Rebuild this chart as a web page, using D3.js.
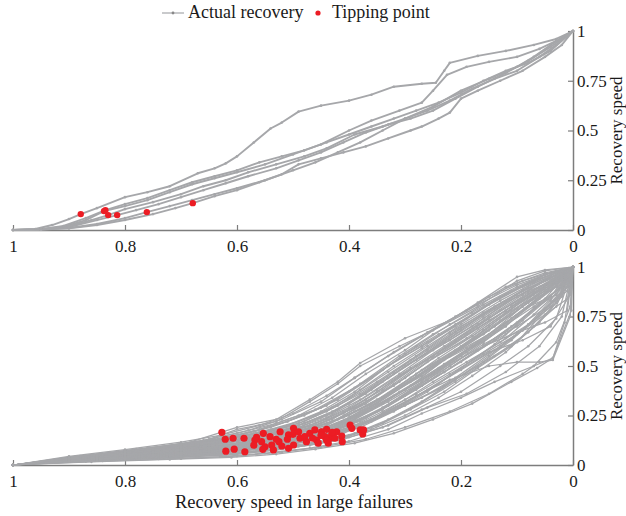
<!DOCTYPE html>
<html>
<head>
<meta charset="utf-8">
<script src="https://cdn.jsdelivr.net/npm/d3@7"></script>
<style>
  body { margin: 0; background: #fff; }
  svg { display: block; }
  text { font-family: "Liberation Serif", "Times New Roman", serif; fill: #1a1a1a; }
</style>
</head>
<body>
<svg id="chart" width="626" height="516"></svg>
<script>
// ---- data ----
var xTicks = [1, 0.8, 0.6, 0.4, 0.2, 0];
var yTicks = [0, 0.25, 0.5, 0.75, 1];
var legendLabels = ["Actual recovery", "Tipping point"];
var yLabel = "Recovery speed";
var xLabel = "Recovery speed in large failures";

// top panel: a few recoveries, [fraction remaining, recovery]
var topCurves = [
  [[1,0],[0.96,0.005],[0.93,0.025],[0.9,0.055],[0.879,0.08],[0.85,0.11],[0.8,0.165],[0.76,0.19],[0.72,0.22],[0.67,0.285],[0.64,0.31],[0.62,0.335],[0.6,0.37],[0.57,0.44],[0.54,0.51],[0.52,0.54],[0.49,0.595],[0.45,0.625],[0.4,0.65],[0.36,0.68],[0.32,0.72],[0.27,0.735],[0.245,0.74],[0.23,0.8],[0.22,0.84],[0.17,0.875],[0.12,0.9],[0.07,0.93],[0.03,0.96],[0,1]],
  [[1,0],[0.95,0.003],[0.91,0.015],[0.87,0.05],[0.8375,0.095],[0.8,0.12],[0.76,0.15],[0.72,0.19],[0.68,0.23],[0.64,0.26],[0.6,0.29],[0.55,0.33],[0.5,0.38],[0.45,0.43],[0.4,0.5],[0.36,0.55],[0.31,0.6],[0.27,0.64],[0.25,0.7],[0.225,0.78],[0.19,0.82],[0.15,0.845],[0.1,0.87],[0.06,0.91],[0.03,0.95],[0,1]],
  [[1,0],[0.95,0.004],[0.9,0.02],[0.86,0.05],[0.83,0.075],[0.8,0.105],[0.75,0.14],[0.7,0.18],[0.66,0.22],[0.62,0.25],[0.58,0.29],[0.53,0.33],[0.48,0.37],[0.44,0.41],[0.39,0.48],[0.34,0.52],[0.3,0.56],[0.25,0.62],[0.2,0.7],[0.15,0.76],[0.1,0.82],[0.07,0.87],[0.04,0.93],[0,1]],
  [[1,0],[0.95,0.003],[0.9,0.015],[0.85,0.05],[0.814,0.075],[0.78,0.1],[0.74,0.13],[0.7,0.165],[0.66,0.2],[0.62,0.235],[0.58,0.27],[0.53,0.31],[0.49,0.35],[0.45,0.39],[0.41,0.44],[0.37,0.49],[0.33,0.53],[0.29,0.56],[0.25,0.6],[0.21,0.66],[0.17,0.72],[0.12,0.79],[0.08,0.85],[0.04,0.92],[0,1]],
  [[1,0],[0.95,0.002],[0.9,0.01],[0.85,0.03],[0.8,0.06],[0.761,0.09],[0.72,0.12],[0.68,0.15],[0.64,0.18],[0.6,0.21],[0.55,0.25],[0.5,0.3],[0.46,0.34],[0.42,0.39],[0.38,0.44],[0.34,0.5],[0.3,0.56],[0.26,0.6],[0.22,0.65],[0.18,0.71],[0.14,0.76],[0.1,0.8],[0.06,0.87],[0.03,0.93],[0,1]],
  [[1,0],[0.95,0.002],[0.9,0.008],[0.85,0.025],[0.8,0.05],[0.75,0.08],[0.71,0.11],[0.679,0.135],[0.64,0.17],[0.6,0.2],[0.56,0.24],[0.52,0.28],[0.49,0.33],[0.45,0.36],[0.41,0.39],[0.37,0.42],[0.33,0.46],[0.29,0.5],[0.27,0.52],[0.24,0.56],[0.22,0.59],[0.2,0.66],[0.17,0.7],[0.13,0.75],[0.09,0.8],[0.05,0.87],[0.02,0.93],[0,1]],
  [[1,0],[0.95,0.004],[0.91,0.02],[0.87,0.06],[0.835,0.1],[0.8,0.13],[0.76,0.16],[0.72,0.2],[0.68,0.24],[0.64,0.27],[0.6,0.3],[0.56,0.34],[0.52,0.37],[0.48,0.4],[0.44,0.44],[0.4,0.48],[0.36,0.52],[0.32,0.56],[0.28,0.6],[0.24,0.64],[0.2,0.69],[0.16,0.75],[0.12,0.8],[0.08,0.84],[0.04,0.9],[0,1]]
];
var topTipping = [[0.879,0.08],[0.8375,0.095],[0.835,0.1],[0.83,0.075],[0.814,0.075],[0.761,0.09],[0.679,0.135]];

// bottom panel: many recoveries
var bottomCurves = [
  [[1,0],[0.86,0.016],[0.72,0.028],[0.61,0.038],[0.53,0.055],[0.46,0.08],[0.39,0.11],[0.32,0.16],[0.25,0.23],[0.18,0.31],[0.11,0.42],[0.064,0.49],[0.036,0.54],[0.015,0.72],[0,1]],
  [[1,0],[0.84,0.02],[0.7,0.032],[0.6,0.045],[0.52,0.065],[0.45,0.09],[0.37,0.13],[0.3,0.19],[0.22,0.27],[0.15,0.36],[0.09,0.46],[0.07,0.5],[0.03,0.62],[0.005,0.8],[0,1]],
  [[1,0],[0.87,0.02],[0.73,0.035],[0.62,0.05],[0.55,0.07],[0.47,0.1],[0.41,0.13],[0.33,0.2],[0.26,0.29],[0.19,0.36],[0.12,0.47],[0.06,0.6],[0.02,0.75],[0,1]],
  [[1,0],[0.85,0.022],[0.71,0.038],[0.6,0.055],[0.53,0.075],[0.46,0.105],[0.4,0.14],[0.34,0.19],[0.27,0.28],[0.2,0.37],[0.13,0.5],[0.08,0.6],[0.03,0.74],[0,1]],
  [[1,0],[0.88,0.02],[0.76,0.035],[0.64,0.055],[0.56,0.07],[0.49,0.095],[0.42,0.125],[0.35,0.2],[0.28,0.3],[0.21,0.42],[0.14,0.55],[0.08,0.67],[0.03,0.82],[0,1]],
  [[1,0],[0.86,0.024],[0.74,0.04],[0.63,0.06],[0.57,0.08],[0.5,0.11],[0.43,0.15],[0.36,0.22],[0.3,0.3],[0.23,0.4],[0.16,0.52],[0.1,0.62],[0.05,0.78],[0.01,0.9],[0,1]],
  [[1,0],[0.84,0.025],[0.72,0.045],[0.62,0.065],[0.55,0.085],[0.48,0.12],[0.41,0.16],[0.34,0.25],[0.27,0.34],[0.21,0.44],[0.14,0.58],[0.09,0.68],[0.04,0.83],[0,1]],
  [[1,0],[0.87,0.026],[0.75,0.045],[0.65,0.06],[0.58,0.075],[0.51,0.1],[0.44,0.14],[0.38,0.2],[0.31,0.29],[0.24,0.38],[0.17,0.5],[0.11,0.63],[0.06,0.76],[0.02,0.87],[0,1]],
  [[1,0],[0.85,0.028],[0.73,0.048],[0.64,0.07],[0.56,0.09],[0.49,0.125],[0.43,0.17],[0.37,0.24],[0.3,0.35],[0.23,0.47],[0.16,0.6],[0.1,0.72],[0.05,0.84],[0,1]],
  [[1,0],[0.88,0.025],[0.77,0.045],[0.67,0.065],[0.6,0.08],[0.53,0.1],[0.46,0.135],[0.4,0.18],[0.33,0.27],[0.26,0.38],[0.2,0.48],[0.13,0.6],[0.07,0.73],[0.02,0.88],[0,1]],
  [[1,0],[0.86,0.03],[0.74,0.05],[0.63,0.075],[0.57,0.095],[0.5,0.13],[0.44,0.175],[0.38,0.26],[0.32,0.35],[0.25,0.46],[0.19,0.57],[0.12,0.7],[0.06,0.85],[0.01,0.93],[0,1]],
  [[1,0],[0.84,0.03],[0.71,0.055],[0.61,0.08],[0.54,0.105],[0.47,0.14],[0.4,0.2],[0.33,0.3],[0.27,0.4],[0.2,0.52],[0.14,0.63],[0.08,0.76],[0.03,0.88],[0,1]],
  [[1,0],[0.87,0.03],[0.76,0.05],[0.66,0.072],[0.59,0.09],[0.52,0.12],[0.45,0.16],[0.39,0.23],[0.33,0.33],[0.27,0.43],[0.2,0.56],[0.14,0.67],[0.07,0.8],[0.02,0.9],[0,1]],
  [[1,0],[0.85,0.032],[0.72,0.058],[0.62,0.085],[0.55,0.115],[0.48,0.155],[0.42,0.21],[0.36,0.3],[0.29,0.42],[0.22,0.55],[0.15,0.66],[0.09,0.8],[0.04,0.9],[0,1]],
  [[1,0],[0.86,0.033],[0.75,0.055],[0.65,0.08],[0.58,0.1],[0.51,0.135],[0.44,0.18],[0.37,0.27],[0.31,0.37],[0.24,0.49],[0.18,0.6],[0.11,0.74],[0.05,0.87],[0,1]],
  [[1,0],[0.88,0.03],[0.78,0.05],[0.68,0.075],[0.61,0.095],[0.54,0.12],[0.47,0.16],[0.41,0.22],[0.35,0.31],[0.28,0.44],[0.22,0.55],[0.15,0.68],[0.09,0.8],[0.03,0.92],[0,1]],
  [[1,0],[0.84,0.035],[0.72,0.06],[0.62,0.09],[0.55,0.12],[0.49,0.15],[0.42,0.2],[0.36,0.28],[0.29,0.4],[0.23,0.53],[0.16,0.66],[0.1,0.79],[0.04,0.91],[0,1]],
  [[1,0],[0.86,0.035],[0.74,0.06],[0.64,0.088],[0.57,0.115],[0.5,0.155],[0.44,0.2],[0.38,0.3],[0.31,0.42],[0.25,0.54],[0.18,0.65],[0.12,0.77],[0.06,0.88],[0.01,0.95],[0,1]],
  [[1,0],[0.87,0.036],[0.76,0.062],[0.66,0.09],[0.6,0.11],[0.53,0.145],[0.46,0.19],[0.4,0.25],[0.33,0.36],[0.27,0.48],[0.2,0.6],[0.13,0.73],[0.07,0.86],[0.02,0.94],[0,1]],
  [[1,0],[0.85,0.038],[0.73,0.065],[0.63,0.095],[0.56,0.125],[0.49,0.17],[0.43,0.22],[0.37,0.31],[0.3,0.44],[0.24,0.56],[0.17,0.69],[0.11,0.8],[0.05,0.9],[0,1]],
  [[1,0],[0.86,0.04],[0.75,0.065],[0.65,0.1],[0.58,0.13],[0.52,0.16],[0.45,0.21],[0.39,0.29],[0.32,0.4],[0.26,0.52],[0.19,0.64],[0.12,0.78],[0.06,0.9],[0,1]],
  [[1,0],[0.84,0.04],[0.71,0.07],[0.61,0.105],[0.54,0.14],[0.47,0.19],[0.41,0.26],[0.35,0.37],[0.28,0.5],[0.21,0.62],[0.15,0.73],[0.08,0.85],[0.03,0.94],[0,1]],
  [[1,0],[0.87,0.04],[0.77,0.068],[0.67,0.1],[0.6,0.125],[0.54,0.155],[0.47,0.2],[0.41,0.27],[0.34,0.38],[0.28,0.5],[0.21,0.63],[0.15,0.74],[0.08,0.87],[0.02,0.95],[0,1]],
  [[1,0],[0.85,0.042],[0.74,0.072],[0.64,0.105],[0.57,0.14],[0.5,0.18],[0.44,0.24],[0.38,0.33],[0.31,0.46],[0.25,0.58],[0.18,0.7],[0.12,0.82],[0.05,0.93],[0,1]],
  [[1,0],[0.86,0.044],[0.73,0.075],[0.63,0.11],[0.56,0.145],[0.49,0.2],[0.43,0.27],[0.36,0.38],[0.3,0.5],[0.23,0.62],[0.16,0.75],[0.1,0.86],[0.04,0.95],[0,1]],
  [[1,0],[0.88,0.04],[0.78,0.068],[0.69,0.1],[0.62,0.13],[0.55,0.165],[0.48,0.21],[0.42,0.28],[0.36,0.39],[0.29,0.53],[0.22,0.66],[0.16,0.77],[0.09,0.88],[0.03,0.96],[0,1]],
  [[1,0],[0.84,0.046],[0.72,0.08],[0.62,0.12],[0.55,0.16],[0.48,0.22],[0.42,0.3],[0.35,0.42],[0.28,0.55],[0.22,0.67],[0.15,0.78],[0.09,0.88],[0.03,0.96],[0,1]],
  [[1,0],[0.86,0.046],[0.75,0.08],[0.66,0.115],[0.59,0.15],[0.52,0.19],[0.46,0.25],[0.4,0.34],[0.33,0.47],[0.26,0.6],[0.2,0.71],[0.13,0.83],[0.07,0.92],[0.01,0.98],[0,1]],
  [[1,0],[0.87,0.048],[0.76,0.085],[0.66,0.125],[0.6,0.16],[0.53,0.21],[0.46,0.28],[0.39,0.39],[0.33,0.5],[0.26,0.62],[0.19,0.74],[0.13,0.85],[0.06,0.94],[0,1]],
  [[1,0],[0.85,0.05],[0.73,0.088],[0.64,0.13],[0.57,0.17],[0.51,0.22],[0.44,0.3],[0.38,0.41],[0.31,0.55],[0.25,0.66],[0.18,0.77],[0.11,0.88],[0.05,0.96],[0,1]],
  [[1,0],[0.86,0.05],[0.74,0.09],[0.65,0.13],[0.58,0.175],[0.52,0.23],[0.45,0.32],[0.39,0.44],[0.32,0.57],[0.26,0.67],[0.19,0.78],[0.12,0.9],[0.05,0.97],[0,1]],
  [[1,0],[0.84,0.05],[0.71,0.09],[0.62,0.135],[0.56,0.18],[0.49,0.25],[0.43,0.34],[0.37,0.46],[0.3,0.58],[0.24,0.7],[0.17,0.81],[0.1,0.91],[0.04,0.97],[0,1]],
  [[1,0],[0.85,0.05],[0.73,0.09],[0.67,0.11],[0.6,0.18],[0.53,0.22],[0.47,0.32],[0.42,0.41],[0.38,0.5],[0.31,0.6],[0.25,0.68],[0.17,0.8],[0.1,0.93],[0.05,0.98],[0,1]],
  [[1,0],[0.88,0.045],[0.78,0.08],[0.69,0.11],[0.6,0.19],[0.53,0.23],[0.47,0.33],[0.42,0.42],[0.38,0.515],[0.3,0.64],[0.22,0.73],[0.17,0.82],[0.1,0.95],[0.05,0.985],[0,1]],
  [[1,0],[0.87,0.018],[0.74,0.03],[0.63,0.042],[0.55,0.06],[0.47,0.085],[0.4,0.12],[0.33,0.18],[0.27,0.26],[0.2,0.34],[0.14,0.42],[0.07,0.5],[0.036,0.54],[0.003,0.78],[0,1]],
  [[1,0],[0.85,0.028],[0.72,0.05],[0.62,0.07],[0.54,0.09],[0.46,0.13],[0.4,0.18],[0.34,0.26],[0.28,0.35],[0.22,0.43],[0.15,0.5],[0.1,0.52],[0.06,0.52],[0.036,0.53],[0.005,0.75],[0,1]],
  [[1,0],[0.86,0.03],[0.75,0.05],[0.65,0.07],[0.58,0.09],[0.5,0.12],[0.43,0.16],[0.36,0.23],[0.29,0.33],[0.22,0.45],[0.15,0.57],[0.09,0.63],[0.04,0.7],[0.005,0.86],[0,1]],
  [[1,0],[0.87,0.032],[0.77,0.055],[0.67,0.08],[0.6,0.1],[0.53,0.13],[0.46,0.17],[0.4,0.24],[0.34,0.34],[0.28,0.45],[0.21,0.58],[0.14,0.7],[0.08,0.82],[0.03,0.9],[0,1]],
  [[1,0],[0.85,0.034],[0.73,0.06],[0.63,0.085],[0.56,0.11],[0.49,0.14],[0.42,0.19],[0.35,0.27],[0.29,0.38],[0.22,0.5],[0.16,0.62],[0.1,0.75],[0.04,0.88],[0,1]],
  [[1,0],[0.86,0.038],[0.74,0.064],[0.64,0.092],[0.57,0.12],[0.5,0.16],[0.44,0.21],[0.38,0.28],[0.31,0.39],[0.24,0.52],[0.18,0.63],[0.11,0.76],[0.05,0.89],[0,1]],
  [[1,0],[0.9,0.02],[0.81,0.035],[0.7,0.05],[0.63,0.065],[0.56,0.09],[0.5,0.12],[0.45,0.15],[0.39,0.22],[0.34,0.29],[0.28,0.39],[0.23,0.47],[0.17,0.58],[0.12,0.66],[0.07,0.79],[0.03,0.86],[0,1]],
  [[1,0],[0.89,0.024],[0.79,0.04],[0.69,0.058],[0.61,0.08],[0.55,0.1],[0.48,0.13],[0.42,0.18],[0.37,0.24],[0.31,0.34],[0.26,0.43],[0.2,0.55],[0.14,0.67],[0.08,0.8],[0.03,0.91],[0,1]],
  [[1,0],[0.9,0.026],[0.8,0.045],[0.71,0.065],[0.63,0.09],[0.57,0.11],[0.5,0.145],[0.44,0.19],[0.38,0.26],[0.32,0.37],[0.27,0.45],[0.21,0.57],[0.15,0.7],[0.09,0.83],[0.04,0.92],[0,1]],
  [[1,0],[0.89,0.03],[0.8,0.05],[0.7,0.075],[0.62,0.1],[0.55,0.13],[0.49,0.17],[0.43,0.23],[0.37,0.33],[0.31,0.45],[0.25,0.55],[0.19,0.66],[0.13,0.78],[0.07,0.88],[0.02,0.96],[0,1]],
  [[1,0],[0.9,0.03],[0.81,0.052],[0.72,0.078],[0.64,0.105],[0.58,0.135],[0.51,0.18],[0.45,0.24],[0.4,0.31],[0.34,0.42],[0.28,0.53],[0.22,0.63],[0.16,0.74],[0.1,0.85],[0.05,0.93],[0,1]],
  [[1,0],[0.89,0.034],[0.79,0.058],[0.69,0.085],[0.62,0.11],[0.55,0.145],[0.49,0.19],[0.43,0.26],[0.37,0.36],[0.32,0.46],[0.26,0.57],[0.2,0.68],[0.14,0.8],[0.08,0.9],[0.03,0.97],[0,1]],
  [[1,0],[0.9,0.036],[0.8,0.062],[0.71,0.09],[0.64,0.12],[0.57,0.155],[0.51,0.2],[0.45,0.27],[0.39,0.37],[0.33,0.5],[0.27,0.6],[0.21,0.7],[0.15,0.81],[0.09,0.9],[0.04,0.96],[0,1]],
  [[1,0],[0.89,0.038],[0.79,0.066],[0.7,0.095],[0.62,0.13],[0.56,0.165],[0.49,0.22],[0.43,0.29],[0.38,0.38],[0.32,0.5],[0.27,0.59],[0.21,0.71],[0.14,0.83],[0.08,0.92],[0.02,0.98],[0,1]],
  [[1,0],[0.9,0.018],[0.8,0.03],[0.7,0.042],[0.62,0.055],[0.55,0.075],[0.48,0.1],[0.42,0.13],[0.36,0.18],[0.3,0.25],[0.24,0.34],[0.18,0.45],[0.12,0.57],[0.07,0.7],[0.03,0.8],[0,1]],
  [[1,0],[0.89,0.02],[0.78,0.034],[0.68,0.048],[0.6,0.062],[0.52,0.085],[0.46,0.11],[0.4,0.15],[0.34,0.21],[0.29,0.28],[0.23,0.37],[0.17,0.49],[0.11,0.6],[0.06,0.72],[0.02,0.85],[0,1]],
  [[1,0],[0.9,0.022],[0.79,0.038],[0.69,0.055],[0.61,0.072],[0.54,0.095],[0.47,0.125],[0.41,0.17],[0.35,0.24],[0.3,0.31],[0.24,0.41],[0.18,0.53],[0.12,0.64],[0.07,0.76],[0.02,0.89],[0,1]],
  [[1,0],[0.88,0.024],[0.78,0.04],[0.68,0.06],[0.6,0.078],[0.53,0.1],[0.47,0.13],[0.41,0.175],[0.36,0.23],[0.3,0.33],[0.25,0.42],[0.19,0.52],[0.13,0.62],[0.08,0.71],[0.03,0.82],[0,1]],
  [[1,0],[0.9,0.025],[0.8,0.043],[0.7,0.062],[0.63,0.08],[0.56,0.1],[0.5,0.13],[0.44,0.17],[0.38,0.22],[0.33,0.3],[0.27,0.4],[0.22,0.5],[0.16,0.61],[0.1,0.7],[0.05,0.79],[0.01,0.88],[0,1]],
  [[1,0],[0.89,0.027],[0.79,0.046],[0.69,0.068],[0.61,0.088],[0.54,0.115],[0.48,0.15],[0.42,0.2],[0.36,0.28],[0.3,0.38],[0.24,0.48],[0.18,0.6],[0.12,0.72],[0.06,0.84],[0.02,0.93],[0,1]],
  [[1,0],[0.9,0.028],[0.8,0.048],[0.71,0.07],[0.63,0.092],[0.57,0.115],[0.5,0.15],[0.44,0.2],[0.39,0.27],[0.33,0.36],[0.28,0.46],[0.22,0.56],[0.16,0.68],[0.11,0.78],[0.05,0.88],[0,1]],
  [[1,0],[0.88,0.03],[0.77,0.05],[0.67,0.072],[0.59,0.095],[0.52,0.125],[0.46,0.165],[0.4,0.22],[0.34,0.31],[0.29,0.4],[0.23,0.51],[0.17,0.62],[0.11,0.74],[0.06,0.85],[0.02,0.94],[0,1]],
  [[1,0],[0.9,0.032],[0.81,0.055],[0.72,0.08],[0.65,0.1],[0.58,0.125],[0.52,0.16],[0.46,0.21],[0.4,0.29],[0.35,0.38],[0.29,0.49],[0.23,0.6],[0.17,0.71],[0.11,0.81],[0.06,0.89],[0.01,0.96],[0,1]],
  [[1,0],[0.89,0.034],[0.78,0.058],[0.68,0.084],[0.6,0.11],[0.53,0.14],[0.47,0.18],[0.41,0.24],[0.35,0.33],[0.29,0.44],[0.24,0.54],[0.18,0.65],[0.12,0.77],[0.07,0.87],[0.02,0.95],[0,1]],
  [[1,0],[0.9,0.02],[0.81,0.035],[0.72,0.05],[0.64,0.068],[0.57,0.09],[0.51,0.115],[0.45,0.15],[0.39,0.2],[0.34,0.27],[0.28,0.36],[0.22,0.46],[0.16,0.56],[0.1,0.66],[0.05,0.76],[0.01,0.84],[0,1]],
  [[1,0],[0.88,0.023],[0.77,0.04],[0.66,0.058],[0.58,0.078],[0.5,0.105],[0.44,0.14],[0.38,0.19],[0.32,0.27],[0.26,0.37],[0.2,0.49],[0.14,0.61],[0.09,0.73],[0.04,0.85],[0,1]],
  [[1,0],[0.9,0.032],[0.8,0.054],[0.7,0.08],[0.62,0.11],[0.56,0.14],[0.49,0.18],[0.44,0.23],[0.38,0.3],[0.32,0.41],[0.26,0.53],[0.21,0.63],[0.15,0.75],[0.09,0.86],[0.04,0.93],[0,1]],
  [[1,0],[0.89,0.036],[0.8,0.06],[0.71,0.086],[0.63,0.115],[0.57,0.145],[0.5,0.19],[0.44,0.25],[0.38,0.35],[0.33,0.44],[0.27,0.55],[0.21,0.67],[0.15,0.78],[0.09,0.88],[0.03,0.95],[0,1]],
  [[1,0],[0.9,0.04],[0.8,0.068],[0.71,0.1],[0.64,0.13],[0.57,0.17],[0.51,0.22],[0.45,0.29],[0.4,0.37],[0.34,0.48],[0.28,0.6],[0.22,0.71],[0.16,0.81],[0.1,0.9],[0.05,0.96],[0,1]],
  [[1,0],[0.89,0.042],[0.78,0.074],[0.68,0.11],[0.61,0.14],[0.54,0.19],[0.48,0.25],[0.42,0.33],[0.36,0.44],[0.3,0.56],[0.24,0.66],[0.18,0.76],[0.12,0.86],[0.06,0.94],[0,1]],
  [[1,0],[0.9,0.044],[0.8,0.078],[0.7,0.115],[0.63,0.15],[0.56,0.2],[0.5,0.26],[0.44,0.35],[0.39,0.44],[0.33,0.55],[0.27,0.65],[0.21,0.75],[0.15,0.85],[0.09,0.93],[0.03,0.98],[0,1]],
  [[1,0],[0.88,0.028],[0.76,0.048],[0.66,0.07],[0.58,0.09],[0.51,0.12],[0.45,0.16],[0.39,0.23],[0.33,0.32],[0.27,0.42],[0.22,0.51],[0.16,0.6],[0.1,0.67],[0.05,0.72],[0.01,0.78],[0,1]],
  [[1,0],[0.9,0.03],[0.79,0.052],[0.69,0.076],[0.61,0.1],[0.54,0.13],[0.48,0.17],[0.42,0.23],[0.36,0.31],[0.31,0.39],[0.25,0.5],[0.19,0.59],[0.13,0.7],[0.08,0.8],[0.03,0.86],[0,1]],
  [[1,0],[0.89,0.022],[0.78,0.038],[0.67,0.055],[0.59,0.072],[0.52,0.09],[0.45,0.12],[0.39,0.16],[0.33,0.23],[0.27,0.32],[0.21,0.43],[0.15,0.55],[0.09,0.68],[0.04,0.8],[0.01,0.9],[0,1]],
  [[1,0],[0.9,0.035],[0.8,0.06],[0.7,0.09],[0.63,0.12],[0.56,0.16],[0.49,0.21],[0.44,0.27],[0.38,0.36],[0.32,0.47],[0.26,0.58],[0.2,0.69],[0.14,0.79],[0.08,0.88],[0.02,0.94],[0,1]],
  [[1,0],[0.88,0.026],[0.77,0.044],[0.67,0.064],[0.59,0.085],[0.52,0.11],[0.46,0.145],[0.4,0.2],[0.34,0.28],[0.28,0.38],[0.23,0.47],[0.17,0.58],[0.11,0.7],[0.06,0.81],[0.02,0.9],[0,1]]
];
var bottomTipping = [
  [0.627,0.165],[0.621,0.13],[0.607,0.135],[0.5875,0.135],[0.62,0.07],[0.605,0.08],[0.586,0.067],
  [0.565,0.14],[0.568,0.126],[0.553,0.16],[0.556,0.118],[0.55,0.092],[0.554,0.079],[0.541,0.143],
  [0.538,0.101],[0.535,0.076],[0.523,0.168],[0.525,0.118],[0.52,0.096],[0.508,0.152],[0.508,0.084],
  [0.499,0.185],[0.499,0.101],[0.5,0.155],[0.49,0.168],[0.4875,0.135],[0.479,0.143],[0.476,0.118],
  [0.461,0.177],[0.458,0.126],[0.455,0.11],[0.449,0.168],[0.443,0.143],[0.44,0.18],[0.437,0.11],
  [0.434,0.135],[0.431,0.152],[0.425,0.135],[0.422,0.168],[0.413,0.146],[0.412,0.118],[0.398,0.202],
  [0.395,0.185],[0.38,0.177],[0.3755,0.157],[0.374,0.177],[0.47,0.16],[0.45,0.15],[0.51,0.13],
  [0.44,0.125],[0.57,0.1],[0.53,0.13],[0.43,0.165],[0.465,0.135]
];

// ---- layout ----
var svg = d3.select("#chart");
var lineGrey = "#a6a7aa";
var axisGrey = "#7d7d7d";
var red = "#ec1c24";

var x = d3.scaleLinear().domain([1, 0]).range([13, 573]);
var panels = [
  { y: d3.scaleLinear().domain([0, 1]).range([230, 31]), curves: topCurves, tips: topTipping, r: 3.2, w: 1.9 },
  { y: d3.scaleLinear().domain([0, 1]).range([465, 267]), curves: bottomCurves, tips: bottomTipping, r: 3.6, w: 1.25 }
];

panels.forEach(function(p, pi) {
  var g = svg.append("g");
  var y0 = p.y(0);

  var xAxis = d3.axisBottom(x).tickValues(xTicks).tickSize(-5).tickSizeOuter(0)
    .tickPadding(10).tickFormat(function(d) { return String(d); });
  var yAxis = d3.axisRight(p.y).tickValues(yTicks).tickSize(-5).tickSizeOuter(0)
    .tickPadding(4).tickFormat(function(d) { return String(d); });

  var gx = g.append("g").attr("transform", "translate(0," + y0 + ")").call(xAxis);
  var gy = g.append("g").attr("transform", "translate(573,0)").call(yAxis);
  [gx, gy].forEach(function(a) {
    a.select(".domain").attr("stroke", axisGrey).attr("stroke-width", 1.5);
    a.selectAll(".tick line").attr("stroke", axisGrey).attr("stroke-width", 1.2);
    a.selectAll(".tick text").attr("fill", "#1a1a1a").style("font-size", "17px")
      .style("font-family", "'Liberation Serif', serif");
  });

  var line = d3.line().x(function(d) { return x(d[0]); }).y(function(d) { return p.y(d[1]); });

  g.selectAll("path.curve")
    .data(p.curves)
    .enter()
    .append("path")
    .attr("class", "curve")
    .attr("d", line)
    .attr("fill", "none")
    .attr("stroke", lineGrey)
    .attr("stroke-width", p.w)
    .attr("stroke-linejoin", "round");

  g.selectAll("circle.vertex")
    .data(d3.merge(p.curves))
    .enter()
    .append("circle")
    .attr("class", "vertex")
    .attr("cx", function(d) { return x(d[0]); })
    .attr("cy", function(d) { return p.y(d[1]); })
    .attr("r", 1.3)
    .attr("fill", lineGrey);

  g.selectAll("circle.tip")
    .data(p.tips)
    .enter()
    .append("circle")
    .attr("class", "tip")
    .attr("cx", function(d) { return x(d[0]); })
    .attr("cy", function(d) { return p.y(d[1]); })
    .attr("r", p.r)
    .attr("fill", red);

  g.append("text")
    .text(yLabel)
    .attr("text-anchor", "middle")
    .attr("transform", "translate(621.5," + ((p.y(0) + p.y(1)) / 2) + ")rotate(-90)")
    .style("font-size", "17px");
});

svg.append("text")
  .text(xLabel)
  .attr("x", 294)
  .attr("y", 508)
  .attr("text-anchor", "middle")
  .style("font-size", "18.5px");

// legend
var lg = svg.append("g");
lg.append("line").attr("x1", 162).attr("x2", 184).attr("y1", 13).attr("y2", 13)
  .attr("stroke", lineGrey).attr("stroke-width", 1.2);
lg.append("circle").attr("cx", 173).attr("cy", 13).attr("r", 1.4).attr("fill", "#888");
lg.append("text").text(legendLabels[0]).attr("x", 188).attr("y", 18).style("font-size", "18px");
lg.append("circle").attr("cx", 318).attr("cy", 13).attr("r", 2.6).attr("fill", red);
lg.append("text").text(legendLabels[1]).attr("x", 332).attr("y", 18).style("font-size", "18px");
</script>
</body>
</html>
